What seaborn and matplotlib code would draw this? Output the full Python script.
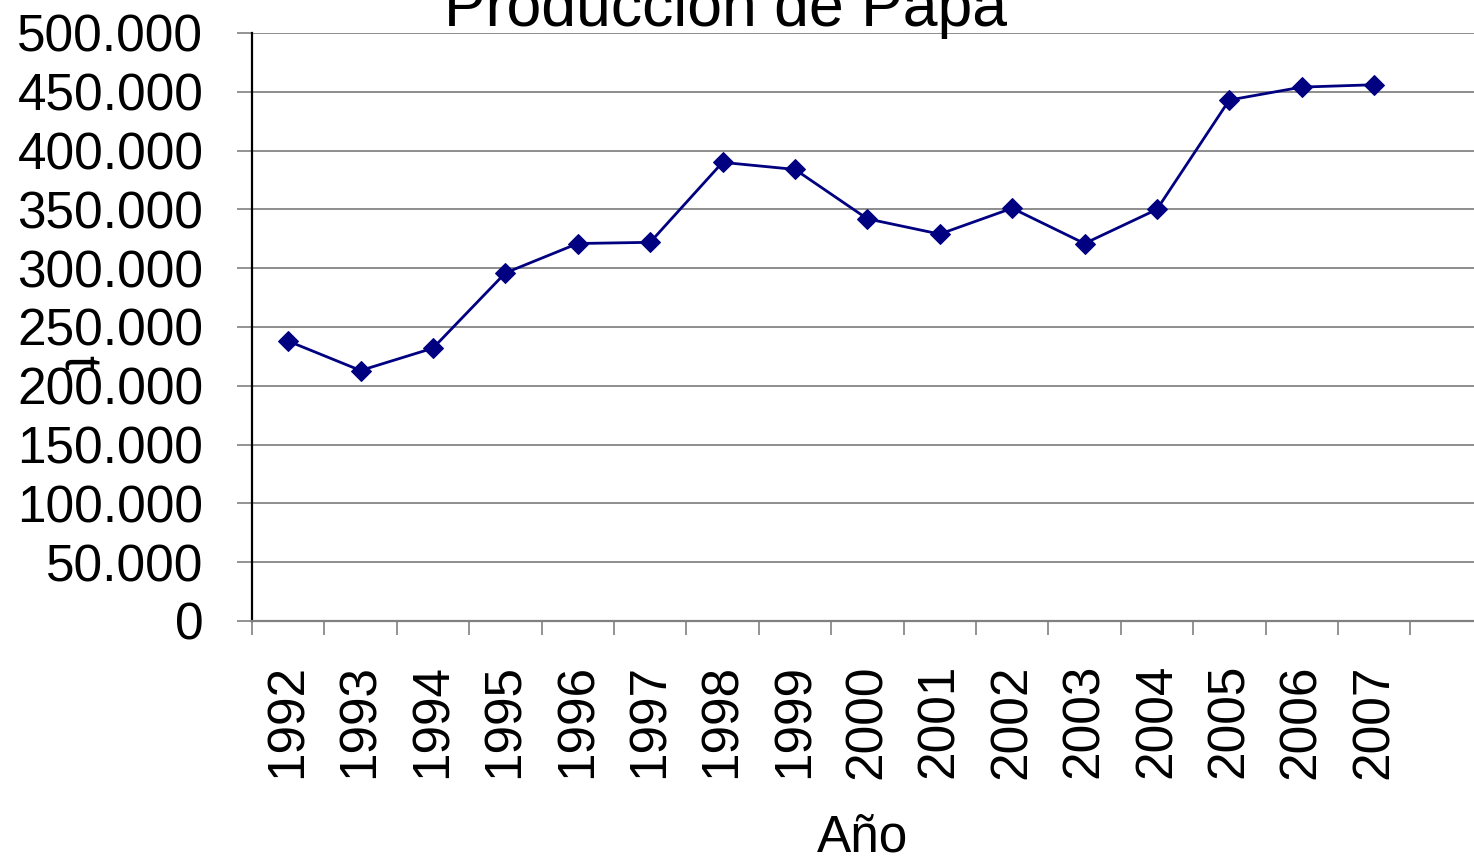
import matplotlib
matplotlib.use("Agg")
import matplotlib.pyplot as plt
import seaborn as sns
import pandas as pd
import numpy as np
from matplotlib.ticker import FuncFormatter, MultipleLocator, FixedLocator

# datos
anios = ["1992", "1993", "1994", "1995", "1996", "1997", "1998", "1999",
         "2000", "2001", "2002", "2003", "2004", "2005", "2006", "2007"]
produccion = [238000, 213000, 232000, 296000, 321000, 322000, 390000, 384000,
              342000, 329000, 351000, 321000, 350000, 443000, 454000, 456000]

sns.set_theme(style="white")
plt.rcParams["font.family"] = ["Liberation Sans", "DejaVu Sans"]
plt.rcParams["text.color"] = "black"
plt.rcParams["axes.labelcolor"] = "black"

W, H = 1474, 859
fig = plt.figure(figsize=(W / 100, H / 100), dpi=100)
ax = fig.add_axes([252 / W, 1 - 621 / H, 1 - 252 / W, (621 - 33) / H])

df = pd.DataFrame({"Año": anios, "Produccion": produccion})
sns.lineplot(data=df, x="Año", y="Produccion", ax=ax, color="#000080", lw=2,
             marker="D", markersize=10, markeredgecolor="#000080", zorder=3)

ax.set_xlim(-0.5, 16.38)
ax.set_ylim(0, 500000)

# eje y
ax.yaxis.set_major_locator(MultipleLocator(50000))
ax.yaxis.set_major_formatter(FuncFormatter(lambda v, p: f"{int(v):,}".replace(",", ".")))
ax.tick_params(axis="y", which="major", left=True, length=11, width=1.2,
               color="#808080", pad=24, labelsize=37, labelcolor="black")
ax.grid(axis="y", color="#7a7a7a", lw=1.2)
ax.grid(axis="x", visible=False)

# eje x: etiquetas en el centro, marcas entre categorias
ax.set_xticks(range(len(anios)))
ax.set_xticklabels(anios, rotation=90)
ax.xaxis.set_minor_locator(FixedLocator(np.arange(-0.5, len(anios), 1)))
ax.tick_params(axis="x", which="major", length=0, pad=31, labelsize=37, labelcolor="black")
ax.tick_params(axis="x", which="minor", bottom=True, length=10, width=1.2, color="#808080")

for s in ["top", "right"]:
    ax.spines[s].set_visible(False)
ax.spines["left"].set_color("black")
ax.spines["left"].set_linewidth(1.6)
ax.spines["bottom"].set_color("#808080")
ax.spines["bottom"].set_linewidth(1.6)

ax.set_xlabel("Año", fontsize=37, color="black")
ax.xaxis.label.set_va("baseline")
ax.xaxis.set_label_coords(0.5, (621 - 851) / 588)

ax.set_ylabel("t", fontsize=37, rotation=270, color="black")
ax.yaxis.label.set_va("center")
ax.yaxis.label.set_ha("center")
ax.yaxis.set_label_coords((77 - 252) / 1222, (621 - 362) / 588)

fig.text(725 / W, 1 - 26 / H, "Producción de Papa", ha="center", va="baseline",
         fontsize=45, color="black")

fig.savefig("out.png", dpi=100)
